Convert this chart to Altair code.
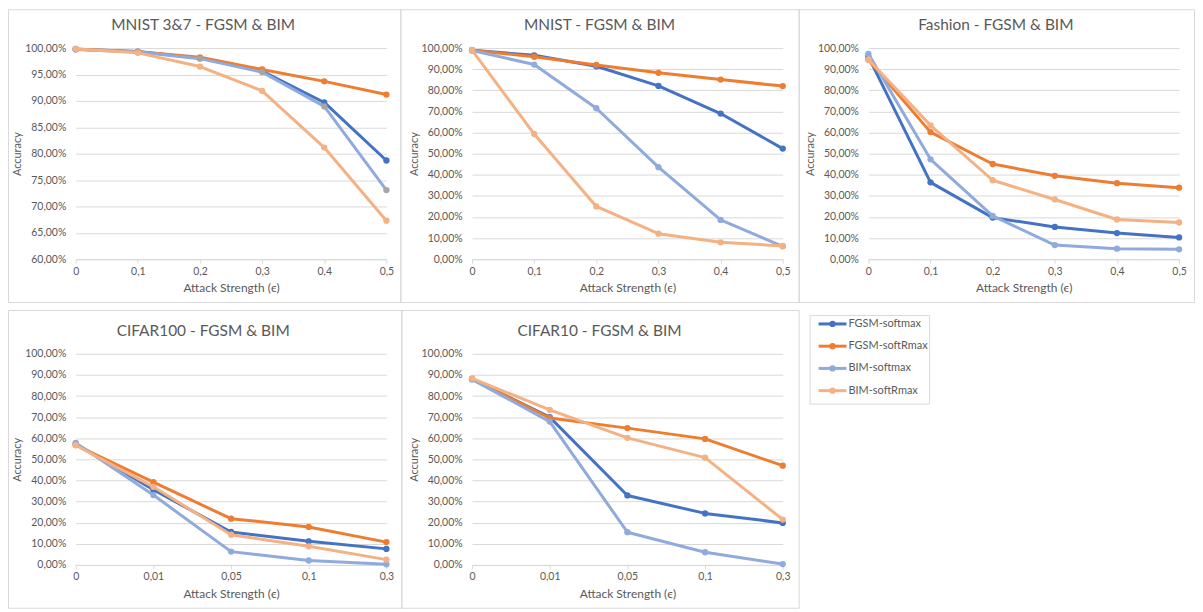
import altair as alt
import pandas as pd

# ---------------- data ----------------
series = ["FGSM-softmax", "FGSM-softRmax", "BIM-softmax", "BIM-softRmax"]
eps_mnist = ["0", "0,1", "0,2", "0,3", "0,4", "0,5"]
eps_cifar = ["0", "0,01", "0,05", "0,1", "0,3"]

title_mnist37 = "MNIST 3&7 - FGSM & BIM"
title_mnist = "MNIST - FGSM & BIM"
title_fashion = "Fashion - FGSM & BIM"
title_cifar100 = "CIFAR100 - FGSM & BIM"
title_cifar10 = "CIFAR10 - FGSM & BIM"

mnist37_fgsm_softmax = [99.80, 99.35, 98.10, 95.65, 89.70, 78.70]
mnist37_fgsm_softrmax = [99.85, 99.30, 98.25, 95.95, 93.70, 91.20]
mnist37_bim_softmax = [99.75, 99.25, 98.00, 95.45, 88.95, 73.10]
mnist37_bim_softrmax = [99.85, 99.10, 96.50, 91.90, 81.15, 67.30]

mnist_fgsm_softmax = [99.0, 96.6, 91.4, 82.1, 69.0, 52.4]
mnist_fgsm_softrmax = [99.0, 95.9, 92.0, 88.3, 85.1, 82.0]
mnist_bim_softmax = [98.9, 92.2, 71.5, 43.6, 18.6, 6.1]
mnist_bim_softrmax = [99.0, 59.3, 25.0, 12.1, 8.0, 6.3]

fashion_fgsm_softmax = [96.0, 36.4, 19.7, 15.3, 12.4, 10.3]
fashion_fgsm_softrmax = [94.5, 60.2, 45.1, 39.5, 36.0, 33.9]
fashion_bim_softmax = [97.3, 47.3, 20.5, 6.7, 5.0, 4.7]
fashion_bim_softrmax = [94.6, 63.4, 37.4, 28.3, 18.8, 17.4]

cifar100_fgsm_softmax = [57.4, 35.6, 15.6, 11.2, 7.6]
cifar100_fgsm_softrmax = [56.8, 39.2, 21.9, 18.0, 10.8]
cifar100_bim_softmax = [57.8, 33.1, 6.3, 2.1, 0.3]
cifar100_bim_softrmax = [56.7, 37.0, 14.3, 8.8, 2.5]

cifar10_fgsm_softmax = [88.0, 70.0, 32.9, 24.4, 19.9]
cifar10_fgsm_softrmax = [88.2, 69.6, 64.8, 59.7, 47.0]
cifar10_bim_softmax = [87.9, 67.9, 15.5, 6.0, 0.4]
cifar10_bim_softrmax = [88.4, 73.4, 60.2, 50.8, 21.5]

# ---------------- style ----------------
FONT = "Lato"
TEXT = "#595959"
LINE = "#D9D9D9"
GRAY_MARK = "#A5A5A5"
COLORS = ["#4472C4", "#ED7D31", "#8FAADC", "#F4B183"]
W, H = 312, 212
PCT = "replace(format(datum.value, '.2f'), '.', ',') + '%'"

color_scale = alt.Scale(domain=series, range=COLORS)
c = alt.Color("series:N", scale=color_scale, legend=None)


def panel(title, eps, values, ymin, ystep, box, gray_bim=False):
    rows = [
        {"eps": e, "acc": a, "series": s}
        for s, vals in zip(series, values)
        for e, a in zip(eps, vals)
    ]
    df = pd.DataFrame(rows)
    x = alt.X(
        "eps:O",
        sort=eps,
        scale=alt.Scale(type="point", padding=0),
        axis=alt.Axis(
            title="Attack Strength (ϵ)",
            titleFontSize=12,
            labelAngle=0,
            domain=True,
            domainColor=LINE,
            domainWidth=1,
            ticks=True,
            tickColor=LINE,
            tickSize=4,
            grid=False,
            labelPadding=3,
            titlePadding=6,
        ),
    )
    y = alt.Y(
        "acc:Q",
        scale=alt.Scale(domain=[ymin, 100], nice=False, zero=False),
        axis=alt.Axis(
            title="Accuracy",
            values=list(range(ymin, 101, ystep)),
            labelExpr=PCT,
            grid=True,
            gridColor=LINE,
            gridWidth=1,
            domain=False,
            ticks=False,
            labelPadding=10,
            titleX=-53,
            titleY=H / 2,
            titleAngle=270,
            titleBaseline="bottom",
            titleAlign="center",
        ),
    )
    l, r, t, b = box
    one = pd.DataFrame({"t": [title]})
    layers = [
        alt.Chart(one)
        .mark_rect(fillOpacity=0, stroke=LINE, strokeWidth=1)
        .encode(x=alt.value(l), x2=alt.value(r), y=alt.value(t), y2=alt.value(b)),
        alt.Chart(one)
        .mark_text(fontSize=15.5, font=FONT, color=TEXT, align="center", baseline="alphabetic")
        .encode(text="t:N", x=alt.value(W / 2 - 28), y=alt.value(-18)),
    ]
    for s in series:
        base = alt.Chart(df).transform_filter(alt.datum.series == s)
        layers.append(
            base.mark_line(strokeWidth=3, strokeJoin="round", strokeCap="round").encode(
                x=x, y=y, color=c
            )
        )
        if gray_bim and s == "BIM-softmax":
            layers.append(
                base.mark_point(filled=True, size=40, opacity=1, color=GRAY_MARK).encode(x=x, y=y)
            )
        else:
            layers.append(
                base.mark_point(filled=True, size=40, opacity=1).encode(x=x, y=y, color=c)
            )
    return alt.layer(*layers).properties(width=W, height=H)


p1 = panel(
    title_mnist37, eps_mnist,
    [mnist37_fgsm_softmax, mnist37_fgsm_softrmax, mnist37_bim_softmax, mnist37_bim_softrmax],
    60, 5, (-67.5, 326.5, -38.5, 255.5), gray_bim=True,
)
p2 = panel(
    title_mnist, eps_mnist,
    [mnist_fgsm_softmax, mnist_fgsm_softrmax, mnist_bim_softmax, mnist_bim_softrmax],
    0, 10, (-71.5, 328.5, -38.5, 255.5),
)
p3 = panel(
    title_fashion, eps_mnist,
    [fashion_fgsm_softmax, fashion_fgsm_softrmax, fashion_bim_softmax, fashion_bim_softrmax],
    0, 10, (-69.5, 327.5, -38.5, 255.5),
)
p4 = panel(
    title_cifar100, eps_cifar,
    [cifar100_fgsm_softmax, cifar100_fgsm_softrmax, cifar100_bim_softmax, cifar100_bim_softrmax],
    0, 10, (-67.5, 327.5, -43.5, 255.5),
)
p5 = panel(
    title_cifar10, eps_cifar,
    [cifar10_fgsm_softmax, cifar10_fgsm_softrmax, cifar10_bim_softmax, cifar10_bim_softrmax],
    0, 10, (-70.5, 328.5, -43.5, 255.5),
)

# ---------------- legend (sits in the third column of row 2) ----------------
leg = pd.DataFrame({"series": series})
ly = alt.Y(
    "series:N",
    sort=series,
    scale=alt.Scale(type="point", range=[-30, 37], padding=0),
    axis=None,
)
legend = alt.layer(
    alt.Chart(pd.DataFrame({"a": [0]}))
    .mark_rect(fillOpacity=0, stroke=LINE, strokeWidth=1)
    .encode(x=alt.value(-58.5), x2=alt.value(61.5), y=alt.value(-38.5), y2=alt.value(50.5)),
    alt.Chart(leg).mark_rule(strokeWidth=3).encode(
        x=alt.value(-50), x2=alt.value(-22), y=ly, color=c
    ),
    alt.Chart(leg).mark_point(filled=True, size=40, opacity=1).encode(
        x=alt.value(-36), y=ly, color=c
    ),
    alt.Chart(leg)
    .mark_text(align="left", baseline="middle", font=FONT, fontSize=11, color=TEXT)
    .encode(x=alt.value(-20), y=ly, text="series:N"),
).properties(width=W, height=H)

chart = (
    alt.concat(
        p1, p2, p3, p4, p5, legend,
        columns=3,
        spacing={"row": 95, "column": 86},
        bounds="flush",
        padding=0,
    )
    .configure_view(stroke=None)
    .configure_axis(
        labelFont=FONT,
        titleFont=FONT,
        labelColor=TEXT,
        titleColor=TEXT,
        labelFontSize=10.5,
        titleFontSize=11,
        titleFontWeight="normal",
    )
)

chart.save("out.html", embed_options={"renderer": "svg", "actions": False})
